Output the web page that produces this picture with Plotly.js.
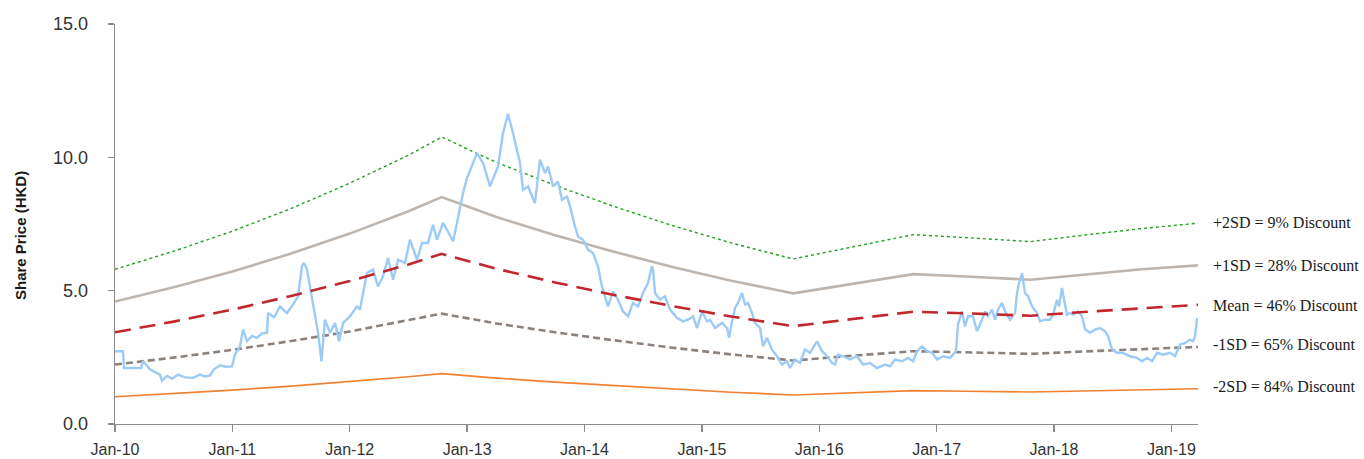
<!DOCTYPE html>
<html>
<head>
<meta charset="utf-8">
<script src="https://cdn.plot.ly/plotly-3.0.1.min.js"></script>
<style>html,body{margin:0;padding:0;background:#fff;}#chart{width:1364px;height:459px;}</style>
</head>
<body>
<div id="chart"></div>
<script>
// Decimal-year dates for the share price
const priceDates = [
2010.000,2010.068,2010.077,2010.222,2010.239,2010.298,2010.383,2010.400,2010.443,2010.486,2010.537,2010.596,2010.665,2010.724,2010.767,2010.809,2010.843,2010.895,2010.946,2010.997,
2011.022,2011.065,2011.091,2011.125,2011.167,2011.210,2011.252,2011.295,2011.304,2011.355,2011.406,2011.465,2011.517,2011.559,2011.593,2011.610,2011.636,2011.661,2011.687,2011.730,
2011.759,2011.789,2011.832,2011.875,2011.909,2011.943,2012.002,2012.062,2012.087,2012.147,2012.198,2012.241,2012.283,2012.326,2012.369,2012.411,2012.471,2012.513,2012.573,2012.616,
2012.667,2012.709,2012.743,2012.795,2012.837,2012.880,2012.914,2012.939,2012.965,2012.999,2013.042,2013.084,2013.136,2013.195,2013.263,2013.306,2013.348,2013.391,2013.451,2013.476,
2013.519,2013.578,2013.621,2013.664,2013.689,2013.732,2013.774,2013.808,2013.851,2013.877,2013.919,2013.945,2013.987,2014.030,2014.073,2014.115,2014.149,2014.175,2014.200,2014.243,
2014.286,2014.328,2014.371,2014.413,2014.456,2014.499,2014.541,2014.575,2014.584,2014.601,2014.643,2014.686,2014.729,2014.788,2014.839,2014.882,2014.925,2014.959,2015.001,2015.044,
2015.070,2015.112,2015.172,2015.215,2015.232,2015.257,2015.283,2015.308,2015.342,2015.368,2015.393,2015.428,2015.453,2015.496,2015.521,2015.555,2015.598,2015.640,2015.683,2015.726,
2015.751,2015.794,2015.836,2015.879,2015.922,2015.981,2016.024,2016.066,2016.109,2016.135,2016.160,2016.203,2016.262,2016.322,2016.373,2016.433,2016.492,2016.560,2016.603,2016.646,
2016.705,2016.756,2016.799,2016.833,2016.876,2016.918,2016.961,2017.004,2017.055,2017.114,2017.165,2017.182,2017.216,2017.242,2017.268,2017.310,2017.344,2017.387,2017.413,2017.438,
2017.472,2017.498,2017.523,2017.557,2017.583,2017.626,2017.668,2017.685,2017.702,2017.728,2017.753,2017.779,2017.813,2017.856,2017.881,2017.924,2017.966,2017.992,2018.026,2018.043,
2018.068,2018.086,2018.111,2018.137,2018.162,2018.205,2018.239,2018.265,2018.307,2018.350,2018.392,2018.435,2018.461,2018.495,2018.537,2018.588,2018.648,2018.707,2018.750,2018.793,
2018.836,2018.878,2018.929,2018.989,2019.032,2019.074,2019.117,2019.159,2019.185,2019.202,2019.219
];
const sharePrice = [
2.73,2.73,2.10,2.10,2.35,2.05,1.85,1.62,1.80,1.70,1.85,1.75,1.73,1.85,1.78,1.82,2.05,2.20,2.15,2.16,
2.60,2.91,3.54,3.10,3.30,3.23,3.40,3.42,4.16,4.00,4.41,4.16,4.48,4.79,5.91,6.04,5.79,5.16,4.66,3.42,
2.35,3.91,3.42,3.79,3.10,3.79,4.04,4.41,4.29,5.66,5.79,5.16,5.54,6.22,5.41,6.16,6.04,6.91,6.16,6.79,
6.79,7.47,6.91,7.54,7.22,6.85,7.54,8.16,8.66,9.22,9.66,10.16,9.78,8.91,9.66,10.91,11.62,10.91,9.78,8.78,
8.91,8.28,9.91,9.41,9.66,8.91,9.09,8.41,8.53,8.16,7.41,7.03,6.91,6.54,6.41,5.91,5.16,4.79,4.41,4.97,
4.66,4.22,4.04,4.54,4.41,4.91,5.29,5.91,5.79,4.91,4.66,4.79,4.29,3.98,3.85,3.91,4.04,3.60,4.22,3.85,
3.91,3.60,3.79,3.60,3.23,3.85,4.35,4.54,4.91,4.48,4.54,4.16,3.79,3.60,2.91,3.23,2.79,2.54,2.23,2.35,
2.10,2.42,2.29,2.79,2.67,3.10,2.73,2.54,2.29,2.23,2.60,2.54,2.42,2.54,2.23,2.29,2.10,2.23,2.16,2.42,
2.35,2.48,2.35,2.73,2.91,2.73,2.67,2.42,2.54,2.48,2.73,3.73,4.22,3.66,4.04,4.04,3.48,3.91,4.22,4.04,
4.29,3.91,4.29,4.54,4.22,3.91,4.16,4.91,5.29,5.66,4.91,4.79,4.41,4.16,3.85,3.91,3.91,4.10,4.66,4.41,
5.10,4.66,4.10,4.16,4.10,4.22,4.04,3.54,3.42,3.54,3.60,3.48,3.29,2.79,2.67,2.67,2.54,2.48,2.35,2.48,
2.35,2.67,2.60,2.67,2.54,2.98,3.04,3.16,3.10,3.29,3.98
];

// Valuation band dates (decimal years) and values
const bandDates = [2010.0,2010.5,2011.0,2011.5,2012.0,2012.5,2012.783,2013.25,2013.75,2014.25,2014.75,2015.25,2015.779,2016.25,2016.8,2017.25,2017.8,2018.25,2018.75,2019.227];
const plus2SD  = [5.80,6.48,7.23,8.08,9.03,10.08,10.76,9.81,8.95,8.16,7.44,6.79,6.19,6.62,7.10,6.99,6.84,7.08,7.33,7.53];
const plus1SD  = [4.59,5.13,5.72,6.39,7.14,7.98,8.51,7.76,7.08,6.46,5.89,5.37,4.90,5.24,5.62,5.53,5.41,5.60,5.80,5.95];
const meanBand = [3.44,3.84,4.29,4.80,5.36,5.98,6.38,5.82,5.31,4.84,4.42,4.03,3.67,3.93,4.21,4.15,4.06,4.20,4.35,4.47];
const minus1SD = [2.23,2.49,2.78,3.11,3.47,3.88,4.14,3.77,3.44,3.14,2.86,2.61,2.38,2.55,2.73,2.69,2.63,2.72,2.82,2.89];
const minus2SD = [1.02,1.14,1.27,1.42,1.59,1.77,1.89,1.72,1.57,1.44,1.31,1.19,1.09,1.16,1.25,1.23,1.20,1.24,1.29,1.32];

const tickYears = [2010,2011,2012,2013,2014,2015,2016,2017,2018,2019];
const tickLabels = ["Jan-10","Jan-11","Jan-12","Jan-13","Jan-14","Jan-15","Jan-16","Jan-17","Jan-18","Jan-19"];
const bandLabels = ["+2SD = 9% Discount","+1SD = 28% Discount","Mean = 46% Discount","-1SD = 65% Discount","-2SD = 84% Discount"];

const traces = [
  {x: bandDates, y: minus2SD, mode:'lines', line:{color:'#f0802e', width:1.6}},
  {x: bandDates, y: minus1SD, mode:'lines', line:{color:'#8d827b', width:2.6, dash:'7px,4px'}},
  {x: bandDates, y: plus1SD, mode:'lines', line:{color:'#beb5ae', width:2.6}},
  {x: bandDates, y: plus2SD, mode:'lines', line:{color:'#1fa31f', width:1.4, dash:'dot'}},
  {x: priceDates, y: sharePrice, mode:'lines', line:{color:'#9ccbf7', width:2.4}},
  {x: bandDates, y: meanBand, mode:'lines', line:{color:'#c1272d', width:2.6, dash:'16px,9px'}}
];

const labelY = [7.57,5.95,4.44,3.0,1.39];
const annotations = bandLabels.map((t,i)=>({
  xref:'paper', yref:'y', x:1.012, y:labelY[i], xanchor:'left', yanchor:'middle',
  text:t, showarrow:false, font:{family:'Liberation Serif, Times New Roman, serif', size:16, color:'#1a1a1a'}
}));
annotations.push({
  xref:'paper', yref:'paper', x:-0.0877, y:0.47, xanchor:'center', yanchor:'middle', textangle:-90,
  text:'<b>Share Price (HKD)</b>', showarrow:false, font:{family:'Liberation Sans, Arial, sans-serif', size:15, color:'#1a1a1a'}
});

const layout = {
  width:1364, height:459,
  margin:{l:115, r:166, t:23.5, b:34.5},
  paper_bgcolor:'#fff', plot_bgcolor:'#fff',
  showlegend:false,
  xaxis:{range:[2010,2019.227], tickvals:tickYears, ticktext:tickLabels, showgrid:false, zeroline:false,
    showline:true, linecolor:'#8c8c8c', linewidth:1.3, ticks:'outside', ticklen:7, tickcolor:'#8c8c8c', tickwidth:1.3,
    ticklabelstandoff:3,
    tickfont:{family:'Liberation Sans, Arial, sans-serif', size:16, color:'#333'}},
  yaxis:{range:[0,15], tickvals:[0,5,10,15], ticktext:['0.0','5.0','10.0','15.0'], showgrid:false, zeroline:false,
    showline:true, linecolor:'#8c8c8c', linewidth:1.3, ticks:'outside', ticklen:6, tickcolor:'#8c8c8c', tickwidth:1.3,
    ticklabelstandoff:16,
    tickfont:{family:'Liberation Sans, Arial, sans-serif', size:18, color:'#333'}},
  annotations: annotations
};
Plotly.newPlot('chart', traces, layout, {staticPlot:true, displayModeBar:false});
</script>
</body>
</html>
